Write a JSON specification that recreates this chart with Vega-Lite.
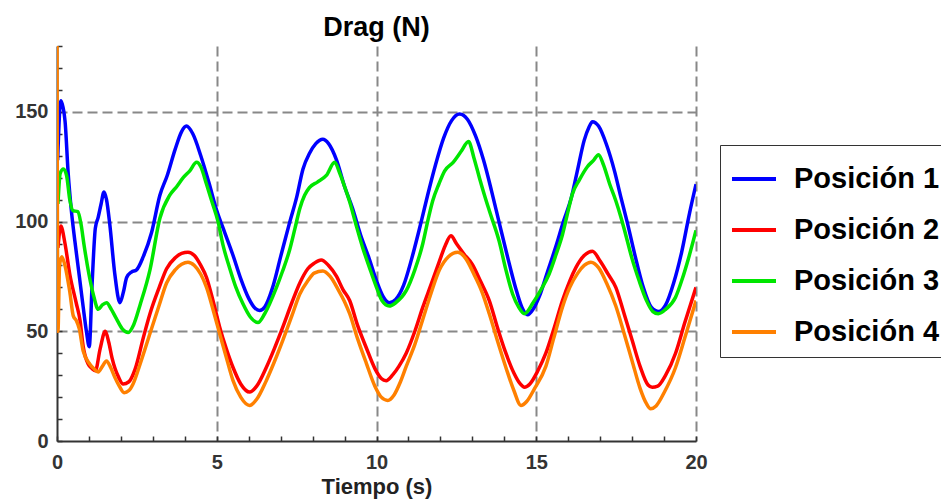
{
  "$schema": "https://vega.github.io/schema/vega-lite/v6.json",
  "autosize": "none",
  "width": 639,
  "height": 395,
  "padding": {"left": 57, "top": 46, "right": 245, "bottom": 61},
  "background": "white",
  "title": {
    "text": "Drag (N)",
    "font": "Liberation Sans",
    "fontSize": 27,
    "fontWeight": "bold",
    "color": "#000000",
    "anchor": "middle",
    "offset": -6
  },
  "config": {
    "view": {"stroke": null},
    "font": "Liberation Sans"
  },
  "data": {
    "values": [
      {"s": "Posición 1", "t": 0.02, "v": 128},
      {"s": "Posición 1", "t": 0.12, "v": 155},
      {"s": "Posición 1", "t": 0.25, "v": 146},
      {"s": "Posición 1", "t": 0.35, "v": 122},
      {"s": "Posición 1", "t": 0.45, "v": 105},
      {"s": "Posición 1", "t": 0.56, "v": 91},
      {"s": "Posición 1", "t": 0.7, "v": 75},
      {"s": "Posición 1", "t": 0.82, "v": 61},
      {"s": "Posición 1", "t": 0.92, "v": 50},
      {"s": "Posición 1", "t": 1.01, "v": 43},
      {"s": "Posición 1", "t": 1.1, "v": 72},
      {"s": "Posición 1", "t": 1.2, "v": 97},
      {"s": "Posición 1", "t": 1.29, "v": 102},
      {"s": "Posición 1", "t": 1.38, "v": 108},
      {"s": "Posición 1", "t": 1.47, "v": 113.5},
      {"s": "Posición 1", "t": 1.55, "v": 110},
      {"s": "Posición 1", "t": 1.65, "v": 99},
      {"s": "Posición 1", "t": 1.81, "v": 76},
      {"s": "Posición 1", "t": 1.97, "v": 63},
      {"s": "Posición 1", "t": 2.08, "v": 68},
      {"s": "Posición 1", "t": 2.18, "v": 74.5},
      {"s": "Posición 1", "t": 2.33, "v": 77},
      {"s": "Posición 1", "t": 2.49, "v": 78},
      {"s": "Posición 1", "t": 2.7, "v": 84},
      {"s": "Posición 1", "t": 2.96, "v": 95},
      {"s": "Posición 1", "t": 3.22, "v": 112},
      {"s": "Posición 1", "t": 3.45, "v": 121},
      {"s": "Posición 1", "t": 3.7, "v": 133},
      {"s": "Posición 1", "t": 3.9, "v": 141},
      {"s": "Posición 1", "t": 4.05, "v": 143.5},
      {"s": "Posición 1", "t": 4.25, "v": 140},
      {"s": "Posición 1", "t": 4.5, "v": 130},
      {"s": "Posición 1", "t": 4.75, "v": 118},
      {"s": "Posición 1", "t": 5.0, "v": 105},
      {"s": "Posición 1", "t": 5.25, "v": 95},
      {"s": "Posición 1", "t": 5.5, "v": 85},
      {"s": "Posición 1", "t": 5.75, "v": 74},
      {"s": "Posición 1", "t": 6.0, "v": 65},
      {"s": "Posición 1", "t": 6.2, "v": 60.5},
      {"s": "Posición 1", "t": 6.34, "v": 59.5},
      {"s": "Posición 1", "t": 6.5, "v": 61},
      {"s": "Posición 1", "t": 6.75, "v": 70},
      {"s": "Posición 1", "t": 7.0, "v": 84},
      {"s": "Posición 1", "t": 7.28, "v": 99.5},
      {"s": "Posición 1", "t": 7.5, "v": 111},
      {"s": "Posición 1", "t": 7.7, "v": 124},
      {"s": "Posición 1", "t": 7.9, "v": 131},
      {"s": "Posición 1", "t": 8.1, "v": 135.5},
      {"s": "Posición 1", "t": 8.32, "v": 137.5},
      {"s": "Posición 1", "t": 8.5, "v": 135.5},
      {"s": "Posición 1", "t": 8.75, "v": 128},
      {"s": "Posición 1", "t": 9.0, "v": 116},
      {"s": "Posición 1", "t": 9.25, "v": 106},
      {"s": "Posición 1", "t": 9.5, "v": 94},
      {"s": "Posición 1", "t": 9.75, "v": 84},
      {"s": "Posición 1", "t": 10.0, "v": 73},
      {"s": "Posición 1", "t": 10.2, "v": 66},
      {"s": "Posición 1", "t": 10.4, "v": 63},
      {"s": "Posición 1", "t": 10.6, "v": 64.5},
      {"s": "Posición 1", "t": 10.85, "v": 71},
      {"s": "Posición 1", "t": 11.1, "v": 83},
      {"s": "Posición 1", "t": 11.4, "v": 100},
      {"s": "Posición 1", "t": 11.6, "v": 112},
      {"s": "Posición 1", "t": 11.85, "v": 126},
      {"s": "Posición 1", "t": 12.1, "v": 138},
      {"s": "Posición 1", "t": 12.35, "v": 146},
      {"s": "Posición 1", "t": 12.6, "v": 149},
      {"s": "Posición 1", "t": 12.85, "v": 146.5},
      {"s": "Posición 1", "t": 13.1, "v": 139},
      {"s": "Posición 1", "t": 13.35, "v": 128},
      {"s": "Posición 1", "t": 13.6, "v": 114},
      {"s": "Posición 1", "t": 13.84, "v": 99.5},
      {"s": "Posición 1", "t": 14.1, "v": 84},
      {"s": "Posición 1", "t": 14.35, "v": 70},
      {"s": "Posición 1", "t": 14.55, "v": 61},
      {"s": "Posición 1", "t": 14.73, "v": 57.5},
      {"s": "Posición 1", "t": 14.9, "v": 60},
      {"s": "Posición 1", "t": 15.1, "v": 66},
      {"s": "Posición 1", "t": 15.35, "v": 77},
      {"s": "Posición 1", "t": 15.6, "v": 88},
      {"s": "Posición 1", "t": 15.85, "v": 100},
      {"s": "Posición 1", "t": 16.1, "v": 111},
      {"s": "Posición 1", "t": 16.3, "v": 124},
      {"s": "Posición 1", "t": 16.5, "v": 137},
      {"s": "Posición 1", "t": 16.65, "v": 143},
      {"s": "Posición 1", "t": 16.76, "v": 145.5},
      {"s": "Posición 1", "t": 16.95, "v": 143.5},
      {"s": "Posición 1", "t": 17.2, "v": 135},
      {"s": "Posición 1", "t": 17.45, "v": 123},
      {"s": "Posición 1", "t": 17.65, "v": 111},
      {"s": "Posición 1", "t": 17.85, "v": 99.5},
      {"s": "Posición 1", "t": 18.1, "v": 84},
      {"s": "Posición 1", "t": 18.35, "v": 70},
      {"s": "Posición 1", "t": 18.6, "v": 61},
      {"s": "Posición 1", "t": 18.84, "v": 59},
      {"s": "Posición 1", "t": 19.05, "v": 62},
      {"s": "Posición 1", "t": 19.3, "v": 72},
      {"s": "Posición 1", "t": 19.55, "v": 86},
      {"s": "Posición 1", "t": 19.8, "v": 104},
      {"s": "Posición 1", "t": 20.0, "v": 117},

      {"s": "Posición 2", "t": 0.03, "v": 88},
      {"s": "Posición 2", "t": 0.12, "v": 98},
      {"s": "Posición 2", "t": 0.25, "v": 90},
      {"s": "Posición 2", "t": 0.4, "v": 76},
      {"s": "Posición 2", "t": 0.6, "v": 63},
      {"s": "Posición 2", "t": 0.72, "v": 55},
      {"s": "Posición 2", "t": 0.82, "v": 43},
      {"s": "Posición 2", "t": 0.98, "v": 35},
      {"s": "Posición 2", "t": 1.1, "v": 33},
      {"s": "Posición 2", "t": 1.2, "v": 32},
      {"s": "Posición 2", "t": 1.35, "v": 42},
      {"s": "Posición 2", "t": 1.51, "v": 50},
      {"s": "Posición 2", "t": 1.62, "v": 45},
      {"s": "Posición 2", "t": 1.72, "v": 38},
      {"s": "Posición 2", "t": 1.93, "v": 29},
      {"s": "Posición 2", "t": 2.07, "v": 26},
      {"s": "Posición 2", "t": 2.25, "v": 27},
      {"s": "Posición 2", "t": 2.45, "v": 33},
      {"s": "Posición 2", "t": 2.7, "v": 47},
      {"s": "Posición 2", "t": 2.91, "v": 58},
      {"s": "Posición 2", "t": 3.2, "v": 70},
      {"s": "Posición 2", "t": 3.43, "v": 78.5},
      {"s": "Posición 2", "t": 3.7, "v": 83.5},
      {"s": "Posición 2", "t": 3.9, "v": 85.5},
      {"s": "Posición 2", "t": 4.1, "v": 86},
      {"s": "Posición 2", "t": 4.3, "v": 84.5},
      {"s": "Posición 2", "t": 4.5, "v": 80},
      {"s": "Posición 2", "t": 4.68, "v": 74.5},
      {"s": "Posición 2", "t": 4.9, "v": 63},
      {"s": "Posición 2", "t": 5.09, "v": 52},
      {"s": "Posición 2", "t": 5.3, "v": 42},
      {"s": "Posición 2", "t": 5.51, "v": 33.5},
      {"s": "Posición 2", "t": 5.75, "v": 26},
      {"s": "Posición 2", "t": 6.03, "v": 22.3},
      {"s": "Posición 2", "t": 6.25, "v": 25},
      {"s": "Posición 2", "t": 6.55, "v": 33.5},
      {"s": "Posición 2", "t": 6.8, "v": 42},
      {"s": "Posición 2", "t": 7.07, "v": 52},
      {"s": "Posición 2", "t": 7.35, "v": 63},
      {"s": "Posición 2", "t": 7.6, "v": 72},
      {"s": "Posición 2", "t": 7.85, "v": 78.5},
      {"s": "Posición 2", "t": 8.05, "v": 81},
      {"s": "Posición 2", "t": 8.27, "v": 82.5},
      {"s": "Posición 2", "t": 8.5, "v": 80},
      {"s": "Posición 2", "t": 8.75, "v": 75},
      {"s": "Posición 2", "t": 8.95, "v": 69},
      {"s": "Posición 2", "t": 9.16, "v": 64},
      {"s": "Posición 2", "t": 9.4, "v": 53},
      {"s": "Posición 2", "t": 9.68, "v": 42.5},
      {"s": "Posición 2", "t": 9.95, "v": 33},
      {"s": "Posición 2", "t": 10.15, "v": 28.5},
      {"s": "Posición 2", "t": 10.3, "v": 27.5},
      {"s": "Posición 2", "t": 10.5, "v": 30},
      {"s": "Posición 2", "t": 10.7, "v": 34},
      {"s": "Posición 2", "t": 10.93, "v": 40},
      {"s": "Posición 2", "t": 11.2, "v": 50},
      {"s": "Posición 2", "t": 11.45, "v": 61},
      {"s": "Posición 2", "t": 11.7, "v": 71},
      {"s": "Posición 2", "t": 11.97, "v": 82},
      {"s": "Posición 2", "t": 12.15, "v": 89},
      {"s": "Posición 2", "t": 12.33, "v": 93.5},
      {"s": "Posición 2", "t": 12.5, "v": 90},
      {"s": "Posición 2", "t": 12.75, "v": 85},
      {"s": "Posición 2", "t": 13.0, "v": 80.5},
      {"s": "Posición 2", "t": 13.25, "v": 73},
      {"s": "Posición 2", "t": 13.53, "v": 64},
      {"s": "Posición 2", "t": 13.8, "v": 51},
      {"s": "Posición 2", "t": 14.05, "v": 40},
      {"s": "Posición 2", "t": 14.3, "v": 31},
      {"s": "Posición 2", "t": 14.5, "v": 26},
      {"s": "Posición 2", "t": 14.63, "v": 24.5},
      {"s": "Posición 2", "t": 14.8, "v": 26},
      {"s": "Posición 2", "t": 15.05, "v": 32},
      {"s": "Posición 2", "t": 15.3, "v": 40},
      {"s": "Posición 2", "t": 15.55, "v": 51},
      {"s": "Posición 2", "t": 15.82, "v": 64},
      {"s": "Posición 2", "t": 16.05, "v": 73},
      {"s": "Posición 2", "t": 16.24, "v": 79},
      {"s": "Posición 2", "t": 16.5, "v": 84.5},
      {"s": "Posición 2", "t": 16.76, "v": 86.5},
      {"s": "Posición 2", "t": 17.0, "v": 82},
      {"s": "Posición 2", "t": 17.25, "v": 76},
      {"s": "Posición 2", "t": 17.49, "v": 70},
      {"s": "Posición 2", "t": 17.75, "v": 58},
      {"s": "Posición 2", "t": 18.0, "v": 46},
      {"s": "Posición 2", "t": 18.25, "v": 34},
      {"s": "Posición 2", "t": 18.5, "v": 25.5},
      {"s": "Posición 2", "t": 18.63, "v": 24.5},
      {"s": "Posición 2", "t": 18.8, "v": 25},
      {"s": "Posición 2", "t": 19.05, "v": 30},
      {"s": "Posición 2", "t": 19.36, "v": 40},
      {"s": "Posición 2", "t": 19.65, "v": 54},
      {"s": "Posición 2", "t": 20.0, "v": 70},

      {"s": "Posición 3", "t": 0.03, "v": 108},
      {"s": "Posición 3", "t": 0.1, "v": 122},
      {"s": "Posición 3", "t": 0.2, "v": 124},
      {"s": "Posición 3", "t": 0.3, "v": 121},
      {"s": "Posición 3", "t": 0.4, "v": 110},
      {"s": "Posición 3", "t": 0.5, "v": 105},
      {"s": "Posición 3", "t": 0.65, "v": 104.5},
      {"s": "Posición 3", "t": 0.75, "v": 99},
      {"s": "Posición 3", "t": 0.85, "v": 89},
      {"s": "Posición 3", "t": 1.0, "v": 76},
      {"s": "Posición 3", "t": 1.15, "v": 66},
      {"s": "Posición 3", "t": 1.29, "v": 60},
      {"s": "Posición 3", "t": 1.42, "v": 62},
      {"s": "Posición 3", "t": 1.55, "v": 63},
      {"s": "Posición 3", "t": 1.7, "v": 60},
      {"s": "Posición 3", "t": 1.85, "v": 56},
      {"s": "Posición 3", "t": 2.05, "v": 51},
      {"s": "Posición 3", "t": 2.23, "v": 49.5},
      {"s": "Posición 3", "t": 2.4, "v": 53},
      {"s": "Posición 3", "t": 2.6, "v": 62},
      {"s": "Posición 3", "t": 2.91, "v": 78},
      {"s": "Posición 3", "t": 3.22, "v": 101.5},
      {"s": "Posición 3", "t": 3.53, "v": 112},
      {"s": "Posición 3", "t": 3.75, "v": 116},
      {"s": "Posición 3", "t": 3.95, "v": 120},
      {"s": "Posición 3", "t": 4.15, "v": 123},
      {"s": "Posición 3", "t": 4.37, "v": 127},
      {"s": "Posición 3", "t": 4.5, "v": 125},
      {"s": "Posición 3", "t": 4.68, "v": 117},
      {"s": "Posición 3", "t": 4.85, "v": 109},
      {"s": "Posición 3", "t": 5.04, "v": 100},
      {"s": "Posición 3", "t": 5.2, "v": 89},
      {"s": "Posición 3", "t": 5.4, "v": 79},
      {"s": "Posición 3", "t": 5.6, "v": 70},
      {"s": "Posición 3", "t": 5.82, "v": 62.5},
      {"s": "Posición 3", "t": 6.05, "v": 56.5},
      {"s": "Posición 3", "t": 6.29, "v": 54},
      {"s": "Posición 3", "t": 6.5, "v": 58},
      {"s": "Posición 3", "t": 6.87, "v": 70},
      {"s": "Posición 3", "t": 7.05, "v": 77},
      {"s": "Posición 3", "t": 7.28, "v": 87},
      {"s": "Posición 3", "t": 7.45, "v": 97},
      {"s": "Posición 3", "t": 7.6, "v": 106},
      {"s": "Posición 3", "t": 7.75, "v": 112},
      {"s": "Posición 3", "t": 7.9, "v": 115.5},
      {"s": "Posición 3", "t": 8.15, "v": 118},
      {"s": "Posición 3", "t": 8.43, "v": 121},
      {"s": "Posición 3", "t": 8.69, "v": 127},
      {"s": "Posición 3", "t": 8.85, "v": 122},
      {"s": "Posición 3", "t": 9.0, "v": 116},
      {"s": "Posición 3", "t": 9.16, "v": 109},
      {"s": "Posición 3", "t": 9.35, "v": 99},
      {"s": "Posición 3", "t": 9.57, "v": 88},
      {"s": "Posición 3", "t": 9.78, "v": 79},
      {"s": "Posición 3", "t": 10.0, "v": 70},
      {"s": "Posición 3", "t": 10.17, "v": 64},
      {"s": "Posición 3", "t": 10.4, "v": 61.5},
      {"s": "Posición 3", "t": 10.6, "v": 63},
      {"s": "Posición 3", "t": 10.93, "v": 68.5},
      {"s": "Posición 3", "t": 11.2, "v": 78},
      {"s": "Posición 3", "t": 11.45, "v": 90},
      {"s": "Posición 3", "t": 11.6, "v": 100},
      {"s": "Posición 3", "t": 11.76, "v": 109.5},
      {"s": "Posición 3", "t": 11.95, "v": 117},
      {"s": "Posición 3", "t": 12.13, "v": 123},
      {"s": "Posición 3", "t": 12.4, "v": 127},
      {"s": "Posición 3", "t": 12.65, "v": 132},
      {"s": "Posición 3", "t": 12.88, "v": 136.5},
      {"s": "Posición 3", "t": 13.05, "v": 129},
      {"s": "Posición 3", "t": 13.22, "v": 120},
      {"s": "Posición 3", "t": 13.38, "v": 112},
      {"s": "Posición 3", "t": 13.53, "v": 105},
      {"s": "Posición 3", "t": 13.84, "v": 91},
      {"s": "Posición 3", "t": 14.05, "v": 78},
      {"s": "Posición 3", "t": 14.26, "v": 67},
      {"s": "Posición 3", "t": 14.45, "v": 61},
      {"s": "Posición 3", "t": 14.63, "v": 58},
      {"s": "Posición 3", "t": 14.9, "v": 63},
      {"s": "Posición 3", "t": 15.15, "v": 69},
      {"s": "Posición 3", "t": 15.4, "v": 76},
      {"s": "Posición 3", "t": 15.62, "v": 85},
      {"s": "Posición 3", "t": 15.82, "v": 94},
      {"s": "Posición 3", "t": 16.0, "v": 105},
      {"s": "Posición 3", "t": 16.13, "v": 112.5},
      {"s": "Posición 3", "t": 16.35, "v": 119},
      {"s": "Posición 3", "t": 16.6, "v": 125},
      {"s": "Posición 3", "t": 16.8, "v": 128},
      {"s": "Posición 3", "t": 16.95, "v": 130.5},
      {"s": "Posición 3", "t": 17.1, "v": 126},
      {"s": "Posición 3", "t": 17.3, "v": 117},
      {"s": "Posición 3", "t": 17.49, "v": 109.5},
      {"s": "Posición 3", "t": 17.65, "v": 102},
      {"s": "Posición 3", "t": 17.8, "v": 94},
      {"s": "Posición 3", "t": 18.0, "v": 83},
      {"s": "Posición 3", "t": 18.22, "v": 73},
      {"s": "Posición 3", "t": 18.45, "v": 64},
      {"s": "Posición 3", "t": 18.65, "v": 59},
      {"s": "Posición 3", "t": 18.82, "v": 58},
      {"s": "Posición 3", "t": 19.05, "v": 60},
      {"s": "Posición 3", "t": 19.36, "v": 65.5},
      {"s": "Posición 3", "t": 19.55, "v": 73},
      {"s": "Posición 3", "t": 19.78, "v": 84},
      {"s": "Posición 3", "t": 20.0, "v": 96},

      {"s": "Posición 4", "t": 0.0, "v": 180},
      {"s": "Posición 4", "t": 0.03, "v": 50},
      {"s": "Posición 4", "t": 0.08, "v": 80},
      {"s": "Posición 4", "t": 0.15, "v": 84},
      {"s": "Posición 4", "t": 0.25, "v": 80},
      {"s": "Posición 4", "t": 0.4, "v": 68},
      {"s": "Posición 4", "t": 0.51, "v": 57},
      {"s": "Posición 4", "t": 0.6, "v": 55},
      {"s": "Posición 4", "t": 0.7, "v": 51},
      {"s": "Posición 4", "t": 0.82, "v": 41},
      {"s": "Posición 4", "t": 1.03, "v": 35},
      {"s": "Posición 4", "t": 1.15, "v": 33},
      {"s": "Posición 4", "t": 1.29, "v": 31.5},
      {"s": "Posición 4", "t": 1.42, "v": 34},
      {"s": "Posición 4", "t": 1.55, "v": 36.5},
      {"s": "Posición 4", "t": 1.68, "v": 33.5},
      {"s": "Posición 4", "t": 1.81, "v": 29},
      {"s": "Posición 4", "t": 1.95, "v": 25},
      {"s": "Posición 4", "t": 2.1, "v": 22},
      {"s": "Posición 4", "t": 2.25, "v": 23},
      {"s": "Posición 4", "t": 2.38, "v": 26},
      {"s": "Posición 4", "t": 2.6, "v": 35},
      {"s": "Posición 4", "t": 2.91, "v": 49},
      {"s": "Posición 4", "t": 3.2, "v": 62},
      {"s": "Posición 4", "t": 3.43, "v": 72},
      {"s": "Posición 4", "t": 3.7, "v": 78},
      {"s": "Posición 4", "t": 3.9, "v": 80.5},
      {"s": "Posición 4", "t": 4.1, "v": 81.5},
      {"s": "Posición 4", "t": 4.3, "v": 80},
      {"s": "Posición 4", "t": 4.5, "v": 76},
      {"s": "Posición 4", "t": 4.68, "v": 70},
      {"s": "Posición 4", "t": 4.9, "v": 59},
      {"s": "Posición 4", "t": 5.09, "v": 49},
      {"s": "Posición 4", "t": 5.3, "v": 38},
      {"s": "Posición 4", "t": 5.51, "v": 27.5},
      {"s": "Posición 4", "t": 5.75, "v": 20},
      {"s": "Posición 4", "t": 6.03, "v": 16.2},
      {"s": "Posición 4", "t": 6.25, "v": 19},
      {"s": "Posición 4", "t": 6.55, "v": 27.5},
      {"s": "Posición 4", "t": 6.8, "v": 36},
      {"s": "Posición 4", "t": 7.07, "v": 46},
      {"s": "Posición 4", "t": 7.35, "v": 57},
      {"s": "Posición 4", "t": 7.6, "v": 67},
      {"s": "Posición 4", "t": 7.85, "v": 73},
      {"s": "Posición 4", "t": 8.05, "v": 76.5},
      {"s": "Posición 4", "t": 8.32, "v": 77.5},
      {"s": "Posición 4", "t": 8.55, "v": 75},
      {"s": "Posición 4", "t": 8.8, "v": 69},
      {"s": "Posición 4", "t": 9.0, "v": 63.5},
      {"s": "Posición 4", "t": 9.16, "v": 58},
      {"s": "Posición 4", "t": 9.4, "v": 47},
      {"s": "Posición 4", "t": 9.68, "v": 35.5},
      {"s": "Posición 4", "t": 9.95, "v": 25},
      {"s": "Posición 4", "t": 10.15, "v": 20},
      {"s": "Posición 4", "t": 10.35, "v": 18.5},
      {"s": "Posición 4", "t": 10.55, "v": 21},
      {"s": "Posición 4", "t": 10.75, "v": 27},
      {"s": "Posición 4", "t": 10.93, "v": 34},
      {"s": "Posición 4", "t": 11.2, "v": 44},
      {"s": "Posición 4", "t": 11.45, "v": 55.5},
      {"s": "Posición 4", "t": 11.7, "v": 67},
      {"s": "Posición 4", "t": 11.97, "v": 78},
      {"s": "Posición 4", "t": 12.25, "v": 84},
      {"s": "Posición 4", "t": 12.54, "v": 86},
      {"s": "Posición 4", "t": 12.8, "v": 83},
      {"s": "Posición 4", "t": 13.05, "v": 76},
      {"s": "Posición 4", "t": 13.3, "v": 68},
      {"s": "Posición 4", "t": 13.53, "v": 58},
      {"s": "Posición 4", "t": 13.8, "v": 45},
      {"s": "Posición 4", "t": 14.05, "v": 33.5},
      {"s": "Posición 4", "t": 14.3, "v": 23},
      {"s": "Posición 4", "t": 14.52, "v": 16.2},
      {"s": "Posición 4", "t": 14.7, "v": 18},
      {"s": "Posición 4", "t": 14.95, "v": 24},
      {"s": "Posición 4", "t": 15.3, "v": 34},
      {"s": "Posición 4", "t": 15.55, "v": 47},
      {"s": "Posición 4", "t": 15.82, "v": 61},
      {"s": "Posición 4", "t": 16.05, "v": 70},
      {"s": "Posición 4", "t": 16.3, "v": 76.5},
      {"s": "Posición 4", "t": 16.5, "v": 80},
      {"s": "Posición 4", "t": 16.71, "v": 81.5},
      {"s": "Posición 4", "t": 16.95, "v": 79},
      {"s": "Posición 4", "t": 17.2, "v": 72},
      {"s": "Posición 4", "t": 17.49, "v": 61.5},
      {"s": "Posición 4", "t": 17.75, "v": 49},
      {"s": "Posición 4", "t": 18.0, "v": 36.5},
      {"s": "Posición 4", "t": 18.25, "v": 24},
      {"s": "Posición 4", "t": 18.45, "v": 17},
      {"s": "Posición 4", "t": 18.58, "v": 14.7},
      {"s": "Posición 4", "t": 18.75, "v": 16},
      {"s": "Posición 4", "t": 19.0, "v": 22},
      {"s": "Posición 4", "t": 19.36, "v": 33.5},
      {"s": "Posición 4", "t": 19.65, "v": 47},
      {"s": "Posición 4", "t": 20.0, "v": 64}
    ]
  },
  "mark": {"type": "line", "strokeWidth": 3.5, "interpolate": "monotone", "clip": true},
  "encoding": {
    "x": {
      "field": "t",
      "type": "quantitative",
      "scale": {"domain": [0, 20], "nice": false, "zero": false},
      "axis": {
        "title": "Tiempo (s)",
        "titleFont": "Liberation Sans",
        "titleFontSize": 22,
        "titleFontWeight": "bold",
        "titleColor": "#222222",
        "titlePadding": 4,
        "values": [0, 1, 2, 3, 4, 5, 6, 7, 8, 9, 10, 11, 12, 13, 14, 15, 16, 17, 18, 19, 20],
        "labelExpr": "datum.value % 5 === 0 ? datum.label : ''",
        "labelFont": "Liberation Sans",
        "labelFontSize": 20,
        "labelFontWeight": "bold",
        "labelColor": "#333333",
        "labelPadding": 16,
        "labelFlush": false,
        "labelOverlap": false,
        "domainColor": "#333333",
        "domainWidth": 2,
        "tickColor": "#333333",
        "tickWidth": 1.5,
        "tickSize": -5,
        "grid": true,
        "gridColor": "#888888",
        "gridWidth": 2,
        "gridDash": [10, 5],
        "gridOpacity": {"condition": {"test": "datum.value % 5 === 0 && datum.value > 0", "value": 1}, "value": 0}
      }
    },
    "y": {
      "field": "v",
      "type": "quantitative",
      "scale": {"domain": [0, 180], "nice": false},
      "axis": {
        "title": null,
        "values": [0, 10, 20, 30, 40, 50, 60, 70, 80, 90, 100, 110, 120, 130, 140, 150, 160, 170, 180],
        "labelExpr": "datum.value % 50 === 0 ? datum.label : ''",
        "labelFont": "Liberation Sans",
        "labelFontSize": 20,
        "labelFontWeight": "bold",
        "labelColor": "#333333",
        "labelPadding": 14,
        "labelFlush": false,
        "labelOverlap": false,
        "domainColor": "#333333",
        "domainWidth": 2,
        "tickColor": "#333333",
        "tickWidth": 1.5,
        "tickSize": -5,
        "grid": true,
        "gridColor": "#888888",
        "gridWidth": 2,
        "gridDash": [10, 5],
        "gridOpacity": {"condition": {"test": "datum.value % 50 === 0 && datum.value > 0", "value": 1}, "value": 0}
      }
    },
    "color": {
      "field": "s",
      "type": "nominal",
      "scale": {
        "domain": ["Posición 1", "Posición 2", "Posición 3", "Posición 4"],
        "range": ["#0000ff", "#ff0000", "#00e600", "#ff8000"]
      },
      "legend": {
        "title": null,
        "orient": "none",
        "legendX": 663,
        "legendY": 99,
        "symbolType": "stroke",
        "symbolSize": 1936,
        "symbolStrokeWidth": 4,
        "labelFont": "Liberation Sans",
        "labelFontSize": 29,
        "labelFontWeight": "bold",
        "labelColor": "#000000",
        "labelOffset": 16,
        "labelLimit": 300,
        "rowPadding": 12,
        "padding": 10,
        "strokeColor": "#333333",
        "fillColor": "#ffffff"
      }
    }
  }
}
